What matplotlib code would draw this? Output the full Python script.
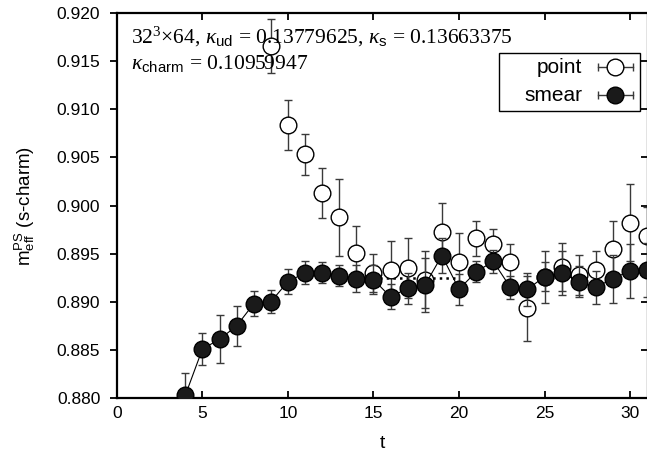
import numpy as np
import matplotlib.pyplot as plt
from matplotlib.patches import Rectangle

plt.rcParams['font.family'] = ['Liberation Sans', 'DejaVu Sans']
plt.rcParams['mathtext.fontset'] = 'custom'
plt.rcParams['mathtext.rm'] = 'Liberation Serif'
plt.rcParams['mathtext.it'] = 'Liberation Serif:italic'
plt.rcParams['mathtext.sf'] = 'Liberation Sans'

# point source (open circles)
t_point = [9, 10, 11, 12, 13, 14, 15, 16, 17, 18, 19, 20, 21, 22, 23, 24, 25, 26, 27, 28, 29, 30, 31]
m_point = [0.9166, 0.9084, 0.9053, 0.9013, 0.8988, 0.8951, 0.8930, 0.8933, 0.8935, 0.8923, 0.8972, 0.8941,
           0.8966, 0.8960, 0.8941, 0.8893, 0.8926, 0.8936, 0.8928, 0.8933, 0.8955, 0.8982, 0.8968]
e_point = [0.0028, 0.0026, 0.0021, 0.0026, 0.0040, 0.0028, 0.0020, 0.0030, 0.0031, 0.0030, 0.0031, 0.0030,
           0.0018, 0.0016, 0.0019, 0.0034, 0.0027, 0.0025, 0.0021, 0.0020, 0.0029, 0.0040, 0.0030]

# smeared source (filled circles)
t_smear = [4, 5, 6, 7, 8, 9, 10, 11, 12, 13, 14, 15, 16, 17, 18, 19, 20, 21, 22, 23, 24, 25, 26, 27, 28, 29, 30, 31]
m_smear = [0.8803, 0.8851, 0.8861, 0.8875, 0.8898, 0.8900, 0.8921, 0.8930, 0.8930, 0.8927, 0.8924, 0.8923,
           0.8905, 0.8914, 0.8917, 0.8948, 0.8913, 0.8931, 0.8942, 0.8915, 0.8913, 0.8926, 0.8930, 0.8921,
           0.8915, 0.8924, 0.8932, 0.8933]
e_smear = [0.0023, 0.0017, 0.0025, 0.0021, 0.0013, 0.0012, 0.0013, 0.0012, 0.0011, 0.0011, 0.0014, 0.0015,
           0.0013, 0.0016, 0.0028, 0.0018, 0.0016, 0.0011, 0.0012, 0.0012, 0.0017, 0.0015, 0.0023, 0.0016,
           0.0017, 0.0025, 0.0028, 0.0028]

# plateau fit
fit_range = [15, 20]
fit_value = 0.8925

fig = plt.figure(figsize=(6.47, 4.55), dpi=100)
ax = fig.add_axes([0.1808, 0.1253, 0.8207, 0.8461])

ax.plot(fit_range, [fit_value, fit_value], color='black', linestyle=':', linewidth=1.8, zorder=1)

ax.errorbar(t_point, m_point, yerr=e_point, fmt='o', color='black', mfc='white', mec='black',
            ms=12, mew=1.0, ecolor='#3a3a3a', elinewidth=1.0, capsize=3, capthick=1.0, zorder=2)
ax.errorbar(t_smear, m_smear, yerr=e_smear, fmt='o-', color='black', mfc='#1a1a1a', mec='black',
            ms=12, mew=1.0, lw=0.8, ecolor='#3a3a3a', elinewidth=1.0, capsize=3, capthick=1.0, zorder=3)

ax.set_xlim(0, 31.05)
ax.set_ylim(0.880, 0.920)
ax.set_xticks([0, 5, 10, 15, 20, 25, 30])
yt = np.arange(0.880, 0.9201, 0.005)
ax.set_yticks(yt)
ax.set_yticklabels([f'{v:.3f}' for v in yt])
ax.tick_params(axis='x', direction='in', top=True, length=5, width=1.3, labelsize=12.5, pad=6)
ax.tick_params(axis='y', direction='out', right=True, length=5, width=1.3, labelsize=12.5, pad=7)
for tl in ax.yaxis.get_ticklines()[1::2]:
    tl.set_marker(0)
for sp in ax.spines.values():
    sp.set_linewidth(1.6)

ax.set_xlabel('t', fontsize=14, labelpad=10)
ax.set_ylabel(r'm$_{\mathsf{eff}}^{\mathsf{PS}}$ (s-charm)', fontsize=13.5, labelpad=14)

serif = ['Liberation Serif', 'DejaVu Serif']
ax.text(0.026, 0.937,
        r'32$^3$$\times$64, $\kappa_{\mathsf{ud}}$ = 0.13779625, $\kappa_{\mathsf{s}}$ = 0.13663375',
        transform=ax.transAxes, fontsize=15.5, family=serif, va='center')
ax.text(0.026, 0.868, r'$\kappa_{\mathsf{charm}}$ = 0.10959947',
        transform=ax.transAxes, fontsize=15.5, family=serif, va='center')

# legend box drawn by hand (labels right-aligned, horizontal error bar handles)
ax.add_patch(Rectangle((0.7194, 0.7455), 0.2656, 0.1506, transform=ax.transAxes, facecolor='white',
                       edgecolor='black', linewidth=1.0, zorder=5))
legend_rows = [('point', 0.8597, 'white'), ('smear', 0.7870, '#1a1a1a')]
for label, yy, fc in legend_rows:
    ax.text(0.8757, yy, label, transform=ax.transAxes, ha='right', va='center', fontsize=15, zorder=6)
    ax.plot([0.9058, 0.9718], [yy, yy], transform=ax.transAxes, color='#3a3a3a', lw=1.0, zorder=6,
            clip_on=False)
    ax.plot([0.9058, 0.9718], [yy, yy], transform=ax.transAxes, ls='none', marker='|', ms=6, mew=1.0,
            color='#3a3a3a', zorder=6, clip_on=False)
    ax.plot([0.9379], [yy], transform=ax.transAxes, marker='o', ms=12, mfc=fc, mec='black', mew=1.0,
            ls='none', zorder=7, clip_on=False)

fig.savefig('out.png', dpi=100)
